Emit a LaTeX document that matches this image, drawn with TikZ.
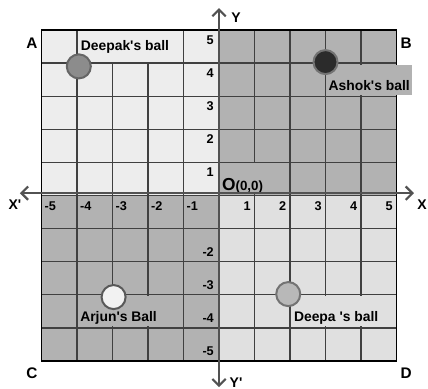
\documentclass[tikz,border=0pt]{standalone}
\usepackage{fontspec}
\setmainfont{Liberation Sans}
\usetikzlibrary{arrows.meta}
\definecolor{paleq}{gray}{0.93}
\definecolor{paleqb}{gray}{0.88}
\definecolor{darkq}{gray}{0.70}
\definecolor{gridc}{gray}{0.25}
\definecolor{axisc}{gray}{0.32}

\tikzset{
  gridline/.style={draw=gridc, line width=1pt},
  axisline/.style={draw=axisc, line width=1.6pt, {Straight Barb[length=5pt,width=10pt]}-{Straight Barb[length=5pt,width=10pt]}},
  ball/.style={circle, minimum size=18pt, inner sep=0pt, line width=1.5pt},
  tag/.style={font=\bfseries\fontsize{10.4}{12}\selectfont, inner xsep=1pt, inner ysep=0pt, anchor=base},
  num/.style={font=\bfseries\fontsize{9.5}{11}\selectfont, inner sep=0pt},
  corner/.style={font=\bfseries\fontsize{11.5}{13}\selectfont, inner sep=0pt},
  axisname/.style={font=\bfseries\fontsize{10.5}{12}\selectfont, inner sep=0pt},
}

\begin{document}
\begin{tikzpicture}[x=26.6pt, y=24.8pt]
	\useasboundingbox (-6.17,-5.846) rectangle (5.887,5.906);
	
	%%%%% quadrants and grid %%%%%
	\fill[paleq] (-5,0) rectangle (0,5);
	\fill[darkq] (0,0) rectangle (5,5);
	\fill[darkq] (-5,-5) rectangle (0,0);
	\fill[paleqb] (0,-5) rectangle (5,0);
	\foreach \i in {-4,...,4} {
		\draw[gridline] (\i,-5) -- (\i,5);
		\draw[gridline] (-5,\i) -- (5,\i);
	}
	\draw[line width=1.2pt] (-5,-5) rectangle (5,5);
	
	%%%%% labels of the balls %%%%%
	\node[tag, fill=paleq, minimum width=69pt, text height=14.6pt, text depth=8.7pt] (deepaklbl) at (-2.65,4.38) {Deepak\textquotesingle s ball};
	\node[tag, fill=darkq, minimum width=64.5pt, text height=19.3pt, text depth=3pt] (ashoklbl) at (4.23,3.17) {Ashok\textquotesingle s ball};
	\node[tag, fill=darkq, minimum width=58.5pt, text height=18.8pt, text depth=3.5pt] (arjunlbl) at (-2.83,-3.81) {Arjun\textquotesingle s Ball};
	\node[tag, fill=paleqb, minimum width=66.5pt, text height=18.8pt, text depth=3.5pt] (deepalbl) at (3.3,-3.81) {Deepa \textquotesingle s ball};
	\node[anchor=base west, fill=darkq, inner sep=0pt, text height=20.6pt, text depth=1.7pt, font=\bfseries] (origin) at (0.08,0.14) {{\fontsize{13}{13}\selectfont O}{\fontsize{10}{10}\selectfont (0,0)}};
	
	%%%%% axes %%%%%
	\coordinate (xl) at (-5.61,0.07);
	\coordinate (xr) at (5.49,0.07);
	\coordinate (yt) at (0,5.66);
	\coordinate (yb) at (0,-5.79);
	\draw[axisline] (xl) -- (xr);
	\draw[axisline] (yb) -- (yt);
	
	%%%%% balls %%%%%
	\node[ball, fill=black!45, draw=black!60] (deepak) at (-3.95,3.9) {};
	\node[ball, fill=black!83, draw=black!55] (ashok) at (3,4.03) {};
	\node[ball, fill=black!5, draw=black!65] (arjun) at (-2.97,-3.07) {};
	\node[ball, fill=black!28, draw=black!55] (deepa) at (1.95,-2.98) {};
	
	%%%%% numbers %%%%%
	\foreach \i [count=\k] in {-5,-4,-3,-2,-1}
		\node[num, anchor=west] (xn\k) at (\i+0.08,-0.32) {\i};
	\foreach \i in {1,...,5}
		\node[num, anchor=east] (xp\i) at (\i-0.1,-0.32) {\i};
	\foreach \i in {1,...,5}
		\node[num, anchor=east] (yp\i) at (-0.14,\i-0.3) {\i};
	\foreach \i [count=\k] in {-2,-3,-4,-5}
		\node[num, anchor=east] (yn\k) at (-0.14,\i+0.3) {\i};
	
	%%%%% axis names and corners %%%%%
	\node[axisname] (ylbl) at (0.48,5.36) {Y};
	\node[axisname] (xlbl) at (5.72,-0.29) {X};
	\node[axisname] (xplbl) at (-5.75,-0.29) {X\textquotesingle};
	\node[axisname] (yplbl) at (0.48,-5.66) {Y\textquotesingle};
	\node[corner] (ca) at (-5.27,4.61) {A};
	\node[corner] (cb) at (5.27,4.61) {B};
	\node[corner] (cc) at (-5.27,-5.36) {C};
	\node[corner] (cd) at (5.27,-5.36) {D};
\end{tikzpicture}
\end{document}
